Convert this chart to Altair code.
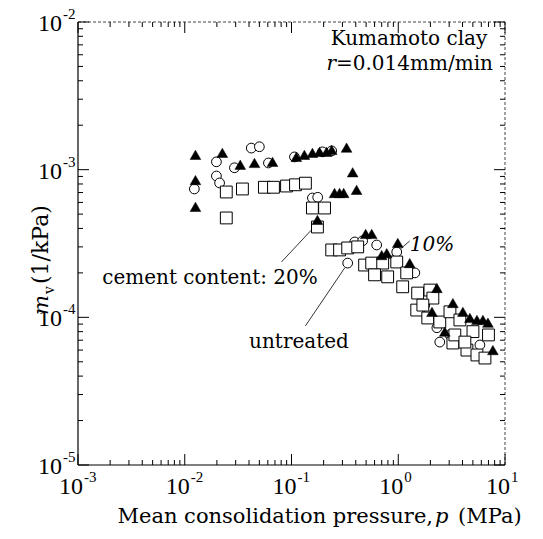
import altair as alt
import pandas as pd

# ---------------- data ----------------
# filled triangles: cement content 10 %
tri_p = [0.0126, 0.0126, 0.0126, 0.0225, 0.0331, 0.045, 0.0664, 0.111, 0.132, 0.157,
         0.183, 0.213, 0.238, 0.328, 0.374, 0.253, 0.282, 0.308, 0.407, 0.175,
         0.495, 0.564, 0.70, 0.78, 0.99, 1.28, 2.30, 2.07, 3.25, 4.03,
         4.69, 5.46, 6.21, 6.92, 2.73, 7.7]
tri_mv = [1.26e-3, 8.5e-4, 5.6e-4, 1.30e-3, 1.08e-3, 1.11e-3, 1.13e-3, 1.22e-3, 1.26e-3, 1.30e-3,
          1.32e-3, 1.32e-3, 1.36e-3, 1.41e-3, 9.6e-4, 6.95e-4, 6.95e-4, 6.95e-4, 7.3e-4, 4.57e-4,
          3.67e-4, 3.67e-4, 2.64e-4, 2.72e-4, 3.19e-4, 2.33e-4, 1.58e-4, 1.09e-4, 1.25e-4, 1.09e-4,
          9.9e-5, 9.6e-5, 9.6e-5, 9.2e-5, 8.0e-5, 6.0e-5]

# open circles: untreated
cir_p = [0.0123, 0.0198, 0.0198, 0.0212, 0.0292, 0.042, 0.050, 0.0608, 0.1066, 0.195,
         0.238, 0.157, 0.176, 0.336, 0.391, 0.464, 0.628, 0.968, 1.43, 1.77,
         1.59, 2.30, 2.45, 3.05, 5.82]
cir_mv = [7.4e-4, 1.13e-3, 9.06e-4, 8.13e-4, 1.03e-3, 1.40e-3, 1.43e-3, 1.11e-3, 1.22e-3, 1.32e-3,
          1.34e-3, 6.43e-4, 6.5e-4, 2.33e-4, 3.24e-4, 3.3e-4, 3.09e-4, 2.77e-4, 2.0e-4, 1.21e-4,
          1.12e-4, 8.5e-5, 6.8e-5, 7.6e-5, 6.5e-5]

# open squares: cement content 20 %
sq_p = [0.0245, 0.0347, 0.0557, 0.0678, 0.0898, 0.109, 0.135, 0.0245, 0.157, 0.204,
        0.175, 0.238, 0.282, 0.336, 0.417, 0.484, 0.564, 0.715, 0.60, 0.796,
        0.968, 1.20, 1.10, 1.52, 1.98, 2.11, 1.49, 1.70, 1.89, 2.45,
        3.05, 3.78, 5.01, 7.0, 3.25, 4.40, 5.46, 6.49, 3.39, 4.21]
sq_mv = [7.06e-4, 7.4e-4, 7.6e-4, 7.6e-4, 7.75e-4, 7.9e-4, 8.1e-4, 4.71e-4, 5.5e-4, 5.5e-4,
         4.09e-4, 2.86e-4, 2.86e-4, 2.95e-4, 3.0e-4, 2.26e-4, 2.33e-4, 2.33e-4, 1.94e-4, 1.88e-4,
         2.37e-4, 2.0e-4, 1.61e-4, 1.46e-4, 1.53e-4, 1.35e-4, 1.12e-4, 1.21e-4, 9.9e-5, 9.3e-5,
         1.09e-4, 9.6e-5, 8.0e-5, 7.6e-5, 6.7e-5, 6.0e-5, 5.56e-5, 5.3e-5, 7.6e-5, 6.8e-5]

# axis decades and exponent labels
x_decades = [1e-3, 1e-2, 1e-1, 1, 10]
x_exps = ["-3", "-2", "-1", "0", "1"]
y_decades = [1e-5, 1e-4, 1e-3, 1e-2]
y_exps = ["-5", "-4", "-3", "-2"]
x_minor = [k * d for d in [1e-3, 1e-2, 1e-1, 1] for k in range(2, 10)]
y_minor = [k * d for d in [1e-5, 1e-4, 1e-3] for k in range(2, 10)]

# annotation leader lines (data coordinates)
lead_p = [0.0805, 0.157, 0.135, 0.315, 1.28, 0.815]
lead_mv = [2.37e-4, 3.97e-4, 8.75e-5, 2.16e-4, 3.29e-4, 2.48e-4]
lead_id = ["a", "a", "b", "b", "c", "c"]

# ---------------- layout ----------------
W, H = 427, 443
SERIF = "Liberation Serif"
TXT = "DejaVu Serif"

xs = alt.Scale(type="log", domain=[1e-3, 10], nice=False)
ys = alt.Scale(type="log", domain=[1e-5, 1e-2], nice=False)
X = lambda f: alt.X(f, type="quantitative", scale=xs, axis=None)
Y = lambda f: alt.Y(f, type="quantitative", scale=ys, axis=None)

df_tri = pd.DataFrame({"p": tri_p, "mv": tri_mv})
df_cir = pd.DataFrame({"p": cir_p, "mv": cir_mv})
df_sq = pd.DataFrame({"p": sq_p, "mv": sq_mv})

circles = alt.Chart(df_cir).mark_point(shape="circle", filled=True, fill="white", stroke="black",
                                       strokeWidth=1, size=95, opacity=1).encode(x=X("p"), y=Y("mv"))
squares = alt.Chart(df_sq).mark_point(shape="square", filled=True, fill="white", stroke="black",
                                      strokeWidth=1, size=140, opacity=1).encode(x=X("p"), y=Y("mv"))
tris = alt.Chart(df_tri).mark_point(shape="triangle-up", filled=True, fill="black", stroke="black",
                                    strokeWidth=0.5, size=115, opacity=1).encode(x=X("p"), y=Y("mv"))

df_lead = pd.DataFrame({"p": lead_p, "mv": lead_mv, "id": lead_id})
leads = alt.Chart(df_lead).mark_line(color="black", strokeWidth=0.8).encode(
    x=X("p"), y=Y("mv"), detail="id:N")

# frame: solid left/bottom, dotted top/right (as in the scanned original)
one = pd.DataFrame({"k": [0]})
frame = [
    alt.Chart(one).mark_rule(color="black", strokeWidth=1.2).encode(
        x=alt.value(0), y=alt.value(0), y2=alt.value(H)),
    alt.Chart(one).mark_rule(color="black", strokeWidth=1.2).encode(
        x=alt.value(0), x2=alt.value(W), y=alt.value(H)),
    alt.Chart(one).mark_rule(color="#444", strokeWidth=1, strokeDash=[3, 2]).encode(
        x=alt.value(0), x2=alt.value(W), y=alt.value(0)),
    alt.Chart(one).mark_rule(color="#444", strokeWidth=1, strokeDash=[3, 2]).encode(
        x=alt.value(W), y=alt.value(0), y2=alt.value(H)),
]

# ticks (inward on all four sides)
dfxM = pd.DataFrame({"p": x_decades, "e": x_exps})
dfxm = pd.DataFrame({"p": x_minor})
dfyM = pd.DataFrame({"mv": y_decades, "e": y_exps})
dfym = pd.DataFrame({"mv": y_minor})
MAJ, MIN = 11, 5
tick_style = dict(color="black", strokeWidth=1)
ticks = [
    alt.Chart(dfxM).mark_rule(**tick_style).encode(x=X("p"), y=alt.value(H), y2=alt.value(H - MAJ)),
    alt.Chart(dfxm).mark_rule(**tick_style).encode(x=X("p"), y=alt.value(H), y2=alt.value(H - MIN)),
    alt.Chart(dfxM).mark_rule(**tick_style).encode(x=X("p"), y=alt.value(0), y2=alt.value(MAJ)),
    alt.Chart(dfxm).mark_rule(**tick_style).encode(x=X("p"), y=alt.value(0), y2=alt.value(MIN)),
    alt.Chart(dfyM).mark_rule(**tick_style).encode(y=Y("mv"), x=alt.value(0), x2=alt.value(MAJ)),
    alt.Chart(dfym).mark_rule(**tick_style).encode(y=Y("mv"), x=alt.value(0), x2=alt.value(MIN)),
    alt.Chart(dfyM).mark_rule(**tick_style).encode(y=Y("mv"), x=alt.value(W), x2=alt.value(W - MAJ)),
    alt.Chart(dfym).mark_rule(**tick_style).encode(y=Y("mv"), x=alt.value(W), x2=alt.value(W - MIN)),
]

# tick labels 10^n built from text marks
xl10 = alt.Chart(dfxM).mark_text(font=SERIF, fontSize=24, align="right", baseline="middle", dx=5).encode(
    x=X("p"), y=alt.value(H + 22), text=alt.value("10"))
xlexp = alt.Chart(dfxM).mark_text(font=SERIF, fontSize=15, align="left", baseline="middle", dx=6).encode(
    x=X("p"), y=alt.value(H + 12), text="e:N")
yl10 = alt.Chart(dfyM).mark_text(font=SERIF, fontSize=24, align="right", baseline="middle", dx=-16, dy=2).encode(
    y=Y("mv"), x=alt.value(0), text=alt.value("10"))
ylexp = alt.Chart(dfyM).mark_text(font=SERIF, fontSize=15, align="left", baseline="middle", dx=-15, dy=-8).encode(
    y=Y("mv"), x=alt.value(0), text="e:N")

def txt(s, x, y, size=20, align="center", style="normal", angle=0, font=TXT):
    kw = dict(font=font, fontSize=size, align=align, baseline="alphabetic", fontStyle=style)
    if angle:
        kw["angle"] = angle
    return alt.Chart(pd.DataFrame({"t": [s]})).mark_text(**kw).encode(
        x=alt.value(x), y=alt.value(y), text="t:N")

labels = [
    txt("Kumamoto clay", 331, 23),
    txt("r", 258, 48, align="right", style="italic"),
    txt("=0.014mm/min", 258, 48, align="left"),
    txt("10%", 354, 229, style="italic"),
    txt("cement content: 20%", 132, 262),
    txt("untreated", 221, 326),
    # x-axis title
    txt("Mean consolidation pressure,", 355, 501, size=21, align="right"),
    txt("p", 357, 501, size=21, align="left", style="italic"),
    txt("(MPa)", 380, 501, size=21, align="left"),
    # y-axis title
    txt("m", -30, 293, size=21, align="left", style="italic", angle=270),
    txt("v", -24, 272, size=14, align="left", angle=270),
    txt("(1/kPa)", -30, 262, size=22, align="left", angle=270),
]

chart = alt.layer(
    *frame, *ticks, leads, circles, squares, tris, xl10, xlexp, yl10, ylexp, *labels
).properties(
    width=W, height=H,
    autosize=alt.AutoSizeParams(type="none"),
    padding={"left": 78, "top": 22, "right": 38, "bottom": 74},
    background="white",
).configure_view(stroke=None)

chart.save("out.html", embed_options={"renderer": "svg", "actions": False})
